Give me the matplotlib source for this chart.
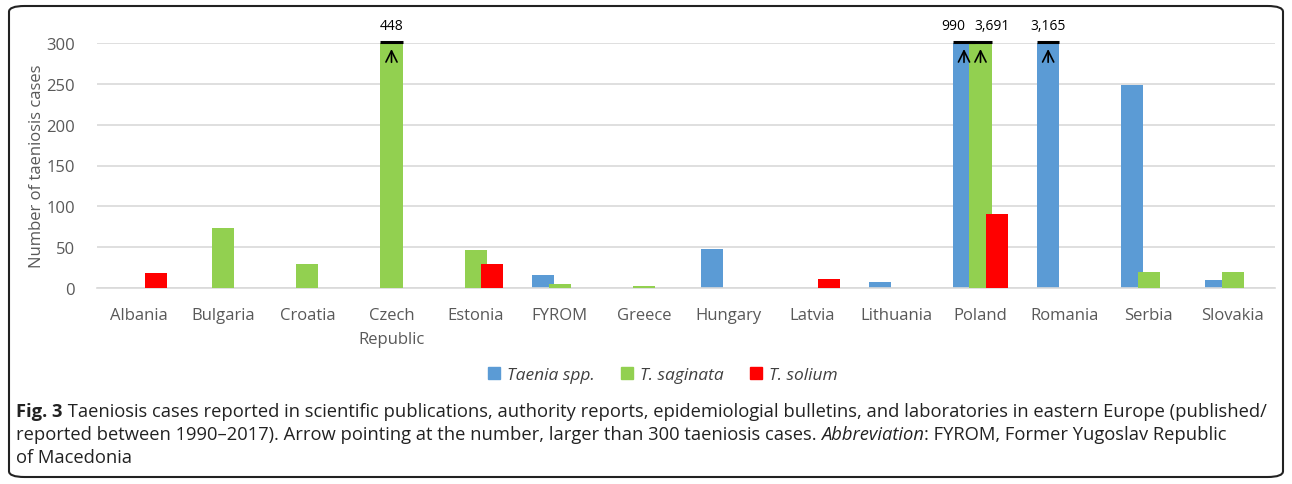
import numpy as np
import matplotlib.pyplot as plt
from matplotlib.patches import FancyBboxPatch, Patch

plt.rcParams['font.family'] = ['Open Sans', 'DejaVu Sans']

countries = ['Albania', 'Bulgaria', 'Croatia', 'Czech\nRepublic', 'Estonia', 'FYROM', 'Greece',
             'Hungary', 'Latvia', 'Lithuania', 'Poland', 'Romania', 'Serbia', 'Slovakia']
taenia_spp = [0, 0, 0, 0, 0, 16, 0, 48, 0, 7, 990, 3165, 249, 10]
t_saginata = [0, 74, 30, 448, 47, 5, 2, 0, 0, 0, 3691, 0, 20, 20]
t_solium = [18, 0, 0, 0, 29, 0, 0, 0, 11, 0, 91, 0, 0, 0]
series_names = ['Taenia spp.', 'T. saginata', 'T. solium']
colors = ['#5b9bd5', '#92d050', '#ff0000']
cap = 300

W, H = 1292, 485
fig = plt.figure(figsize=(W / 100, H / 100), dpi=100)
ax = fig.add_axes([97 / W, 1 - 289 / H, (1275 - 97) / W, 245 / H])

x = np.arange(len(countries))
width = 0.262
offset = 0.196
for k, (vals, c) in enumerate(zip([taenia_spp, t_saginata, t_solium], colors)):
    xs = x + (k - 1) * offset
    shown = [min(v, cap) for v in vals]
    ax.bar(xs, shown, width=width, color=c, zorder=2 + k)
    for i, (xi, v) in enumerate(zip(xs, vals)):
        if v > cap:
            ax.plot([xi - width / 2, xi + width / 2], [cap + 1, cap + 1], color='black', lw=2.2,
                    solid_capstyle='butt', zorder=10, clip_on=False)
            ax.annotate('', xy=(xi, 296), xytext=(xi, 273),
                        arrowprops=dict(arrowstyle='->', color='black', lw=1.2,
                                        mutation_scale=20), zorder=11)
            # neighbouring capped bars: push labels apart
            shift, ha = 0, 'center'
            if k == 0 and t_saginata[i] > cap:
                shift, ha = 0.02, 'right'
            elif k == 1 and taenia_spp[i] > cap:
                shift, ha = -0.07, 'left'
            ax.text(xi + shift, 312, f'{v:,}', ha=ha, va='bottom', fontsize=10,
                    color='black')

ax.set_xlim(-0.5, len(countries) - 0.5)
ax.set_ylim(0, cap)
ax.set_yticks(range(0, 301, 50))
ax.yaxis.grid(True, color='#d9d9d9', lw=1.2, zorder=0)
ax.set_axisbelow(True)
for s in ['top', 'right', 'left']:
    ax.spines[s].set_visible(False)
ax.spines['bottom'].set_color('#d9d9d9')
ax.spines['bottom'].set_linewidth(1.2)
ax.tick_params(length=0, labelsize=12, colors='#595959')
ax.set_xticks(x)
ax.set_xticklabels(countries, linespacing=1.65)
ax.tick_params(axis='x', pad=14)
ax.tick_params(axis='y', pad=16)
ax.set_ylabel('Number of taeniosis cases', fontsize=12, color='#595959', labelpad=1)

handles = [Patch(color=c) for c in colors]
fig.legend(handles, series_names, loc='center', bbox_to_anchor=(663 / W, 1 - 376 / H),
           ncol=3, frameon=False, prop=dict(style='italic', size=12.5), handlelength=0.7,
           handleheight=0.7, handletextpad=0.4, columnspacing=1.5, labelcolor='#404040')

# rounded frame
fig.patches.append(FancyBboxPatch((9 / W, 7 / H), (1283 - 9) / W, (478 - 7) / H,
                                  boxstyle='round,pad=0,rounding_size=0.012',
                                  transform=fig.transFigure, fill=False,
                                  ec='#222222', lw=1.5))

# caption with mixed styles
def line_parts(parts, y):
    fig.canvas.draw()
    r = fig.canvas.get_renderer()
    xpos = 16 / W
    for txt, kw in parts:
        t = fig.text(xpos, y, txt, fontsize=13.2, color='#222222', va='center', **kw)
        bb = t.get_window_extent(renderer=r)
        xpos += bb.width / W

line_parts([('Fig. 3', dict(weight='bold')),
            (' Taeniosis cases reported in scientific publications, authority reports, '
             'epidemiologial bulletins, and laboratories in eastern Europe (published/', {})],
           1 - 412 / H)
line_parts([('reported between 1990\u20132017). Arrow pointing at the number, larger than 300 '
             'taeniosis cases. ', {}),
            ('Abbreviation', dict(style='italic')),
            (': FYROM, Former Yugoslav Republic', {})],
           1 - 435 / H)
line_parts([('of Macedonia', {})], 1 - 458 / H)

fig.savefig('out.png', dpi=100)
